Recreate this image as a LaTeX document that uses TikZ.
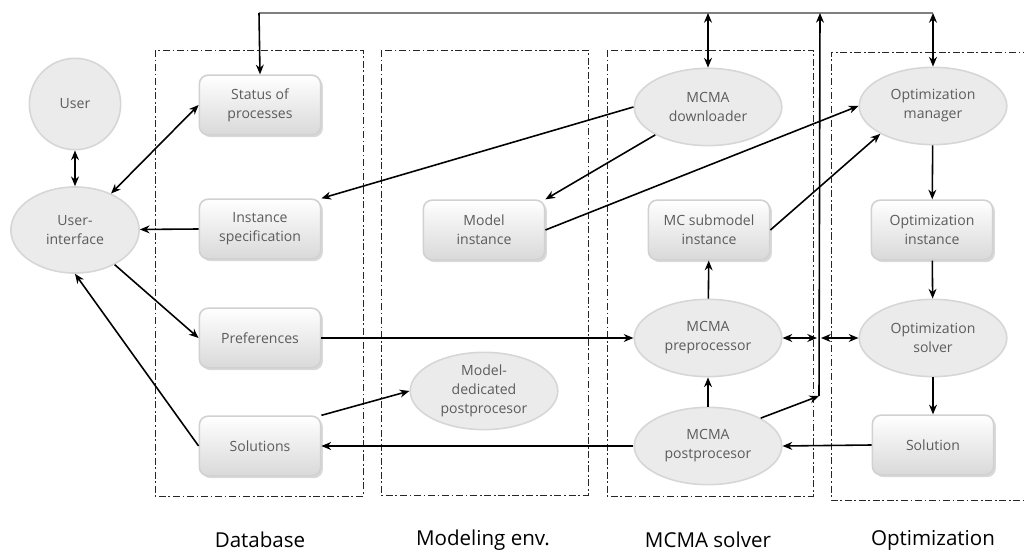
\documentclass[tikz,border=0pt]{standalone}
\usepackage{fontspec}
\setmainfont{Open Sans}
\usepackage{tikz}
\usetikzlibrary{
  arrows.meta,
  shapes.geometric,
  shadows,
  calc
}
\usepackage{xcolor}
\definecolor{boxTop}{rgb}{1,1,1}
\definecolor{boxBottom}{rgb}{0.85,0.85,0.85}
\definecolor{boxBorder}{rgb}{0.82,0.82,0.82}
\definecolor{ovalFill}{rgb}{0.92,0.92,0.92}
\definecolor{ovalBorder}{rgb}{0.84,0.84,0.84}
\definecolor{labelGray}{rgb}{0.36,0.36,0.36}
\definecolor{busGray}{rgb}{0.5,0.5,0.5}
\tikzset{
  procBox/.style={
    rectangle,
    rounded corners=5pt,
    draw=boxBorder,
    top color=boxTop,
    bottom color=boxBottom,
    drop shadow={shadow xshift=1.3pt, shadow yshift=-1.3pt, opacity=0.3},
    minimum width=69pt,
    minimum height=34pt,
    inner sep=2pt,
    align=center,
    text=labelGray,
    font=\fontsize{8}{10.8}\selectfont
  }
}
\tikzset{
  procOval/.style={
    ellipse,
    draw=ovalBorder,
    fill=ovalFill,
    minimum width=84pt,
    minimum height=44pt,
    inner sep=0pt,
    align=center,
    text=labelGray,
    font=\fontsize{8}{10.8}\selectfont
  }
}
\tikzset{
  groupFrame/.style={
    draw=black!85,
    line width=0.5pt,
    dash pattern=on 4pt off 1.5pt on 1pt off 1.5pt
  }
}
\tikzset{
  groupLabel/.style={
    font=\fontsize{11.7}{14}\selectfont,
    text=black
  }
}

\begin{document}
\begin{tikzpicture}[x=0.02cm, y=-0.02cm, >={Stealth[length=5.5pt,width=4.5pt]},
    line width=0.9pt]
    \useasboundingbox (0,0) rectangle (1024,553);

    % frames of the four parts
    \draw[groupFrame] (155,50) rectangle (363,496);
    \draw[groupFrame] (381,50) rectangle (588,495);
    \draw[groupFrame] (607,50) rectangle (813,496);
    \draw[groupFrame] (1030,52) -- (831,52) -- (831,500) -- (1030,500);
    \node[groupLabel] (dbLabel) at (260,540) {Database};
    \node[groupLabel] (envLabel) at (483,540) {Modeling env.};
    \node[groupLabel] (solverLabel) at (708,540) {MCMA solver};
    \node[groupLabel] (optLabel) at (933,540) {Optimization};

    % user side
    \node[procOval, circle, minimum size=52pt] (user) at (75,104) {User};
    \node[procOval, minimum width=73pt, minimum height=49pt] (ui) at (75,230)
      {User-\\interface};

    % database
    \node[procBox] (status) at (260,105) {Status of\\processes};
    \node[procBox] (instSpec) at (260,229) {Instance\\specification};
    \node[procBox] (prefs) at (260,338) {Preferences};
    \node[procBox] (solutions) at (260,446) {Solutions};

    % modeling environment
    \node[procBox] (modelInst) at (484,230) {Model\\instance};
    \node[procOval] (modelPost) at (484,391) {Model-\\dedicated\\postprocesor};

    % MCMA solver
    \node[procOval] (dl) at (708,107) {MCMA\\downloader};
    \node[procBox] (mcSub) at (709,230) {MC submodel\\instance};
    \node[procOval] (pre) at (708,338) {MCMA\\preprocessor};
    \node[procOval] (post) at (708,446) {MCMA\\postprocesor};

    % optimization
    \node[procOval] (optMan) at (933,106) {Optimization\\manager};
    \node[procBox] (optInst) at (932,230) {Optimization\\instance};
    \node[procOval] (optSolver) at (933,338) {Optimization\\solver};
    \node[procBox] (optSol) at (933,445) {Solution};

    % the bus on top
    \coordinate (busL) at (259,13);
    \coordinate (busR) at (933,13);
    \coordinate (busUp) at (820,13);
    \coordinate (busLow) at (819,396);
    \coordinate (preJoin) at (817,338);
    \coordinate (solvJoin) at (821,338);
    \draw[busGray, line width=1.2pt] (busL) -- (busR);
    \draw[->] (busL) -- (status.north);
    \draw[<->] (dl.north |- busR) -- (dl.north);
    \draw[<->] (busR) -- (optMan.north);
    \draw[->] (post.north east) -- (busLow);
    \draw[->] (busLow) -- (busUp);
    \draw[<->] (pre.east) -- (preJoin);
    \draw[<->] (solvJoin) -- (optSolver.west);

    % flows
    \path[<->] (user) edge (ui);
    \path[<->] (ui) edge (status.west);
    \path[->] (instSpec.west) edge (ui);
    \path[->] (ui) edge (prefs.west);
    \path[->] (solutions.west) edge (ui.south);
    \path[->] (dl.west) edge (instSpec.north east);
    \path[->] (dl.south west) edge (modelInst.north east);
    \path[->] (modelInst.east) edge (optMan.west);
    \path[->] (mcSub.east) edge (optMan.south west);
    \path[->] (prefs.east) edge (pre.west);
    \path[->] (solutions.north east) edge (modelPost.west);
    \path[->] (post.west) edge (solutions.east);
    \path[->] (optSol.west) edge (post.east);
    \foreach \from/\to in {post/pre, pre/mcSub, optMan/optInst, optInst/optSolver, optSolver/optSol}
      \path[->] (\from) edge (\to);
\end{tikzpicture}
\end{document}
